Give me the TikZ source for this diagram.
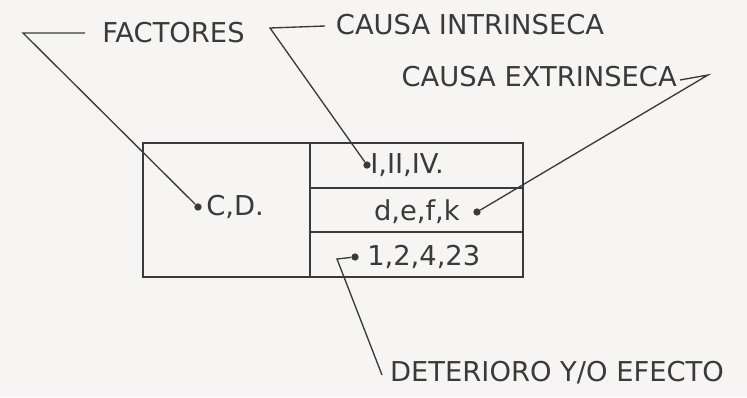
\documentclass[tikz,border=0pt]{standalone}
\usepackage{fontspec}
\setmainfont{DejaVu Sans}
\usepackage{xcolor}

\definecolor{ink}{RGB}{58,58,58}
\definecolor{paper}{RGB}{247,245,244}

\tikzset{
    lbl/.style={text=ink, inner sep=0pt, font=\fontsize{20.5}{24}\selectfont},
    dot/.style={circle, fill=ink, inner sep=0pt, minimum size=5.5pt},
    leader/.style={ink, line width=1pt},
    grid/.style={ink, line width=1.2pt}
}

\begin{document}
\begin{tikzpicture}[x=0.75pt,y=-0.75pt]

        \fill[paper] (0,0) rectangle (747,397);
        \useasboundingbox (0,0) rectangle (747,397);

        % table

        \draw[grid] (143,143) rectangle (523,277);
        \draw[grid] (310,143) -- (310,277);
        \draw[grid] (310,188) -- (523,188);
        \draw[grid] (310,232) -- (523,232);

        % cells

        \node[dot] (cddot) at (198,207) {};
        \node[lbl, anchor=west] (cd) at (206,207) {C,D.};

        \node[dot] (idot) at (367,165) {};
        \node[lbl, anchor=west] (i) at (370,165) {I,II,IV.};

        \node[lbl, anchor=east] (d) at (460,212) {d,e,f,k};
        \node[dot] (ddot) at (477,212) {};

        \node[dot] (ndot) at (355,257) {};
        \node[lbl, anchor=west] (n) at (367,257) {1,2,4,23};

        % labels

        \node[lbl, anchor=west] (factores) at (102,33) {FACTORES};
        \node[lbl] (intr) at (470,25) {CAUSA INTRINSECA};
        \node[lbl, anchor=east] (extr) at (677,77) {CAUSA EXTRINSECA};
        \node[lbl] (det) at (557,373) {DETERIORO Y/O EFECTO};

        % leaders

        \coordinate (fb) at (85,33);
        \coordinate (fa) at (23,33);
        \draw[leader] (fb) -- (fa) -- (cddot);

        \coordinate (ib) at (325,26);
        \coordinate (ia) at (270,28);
        \draw[leader] (ib) -- (ia) -- (idot);

        \coordinate (eb) at (680,80);
        \coordinate (ea) at (708,75);
        \draw[leader] (eb) -- (ea) -- (ddot);

        \coordinate (na) at (337,259);
        \coordinate (nb) at (382,375);
        \draw[leader] (ndot) -- (na) -- (nb);

\end{tikzpicture}
\end{document}
